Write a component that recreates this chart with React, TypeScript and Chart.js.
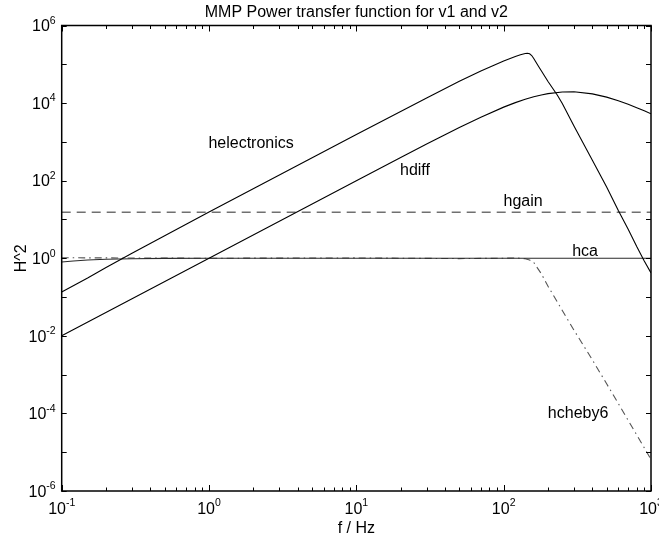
import React, { useEffect, useRef } from 'react';
import { Chart, registerables } from 'chart.js';

Chart.register(...registerables);

const FONT = "'Liberation Sans', Arial, Helvetica, sans-serif";

// ---- data ----
const freqElec = [0.1, 0.15, 0.2, 0.3, 0.5, 1, 10, 30, 50, 70, 100, 120, 130, 140, 145, 150, 155, 160, 171, 180, 200, 231, 250, 300, 400, 500, 600, 700, 800, 900, 1000];
const hElectronics = [0.135, 0.31, 0.58, 1.35, 3.8, 15.5, 1550, 13600, 36400, 67300, 122000, 159000, 176000, 190000, 193000, 186000, 168000, 141000, 93000, 68000, 36000, 16200, 9800, 2550, 335, 69, 17, 5.6, 2.0, 0.85, 0.42];

const freqDiff = [0.1, 1, 10, 20, 30, 50, 70, 100, 120, 140, 160, 180, 200, 250, 300, 400, 500, 600, 700, 800, 900, 1000];
const hDiff = [0.01, 1, 99.7, 396, 880, 2348, 4340, 7865, 10277, 12544, 14549, 16221, 17538, 19350, 19506, 17304, 14248, 11513, 9322, 7623, 6308, 5285];

const freqGain = [0.1, 1000];
const hGain = [15.4, 15.4];

const freqCa = [0.1, 0.12, 0.15, 0.2, 0.3, 0.5, 1, 1000];
const hCa = [0.8, 0.85, 0.9, 0.94, 0.973, 0.99, 1, 1];

const freqCheby = [0.1, 1, 10, 50, 100, 120, 140, 150, 160, 180, 200, 250, 300, 400, 500, 600, 700, 800, 900, 1000];
const hCheby6 = [1.03, 1.0, 1.02, 0.98, 1.0, 1.02, 0.97, 0.9, 0.78, 0.4, 0.19, 0.045, 0.014, 0.0024, 0.00058, 0.00018, 0.000066, 0.000028, 0.000013, 0.0000065];

const xTickValues = [0.1, 1, 10, 100, 1000];
const yTickValues = [1e-6, 1e-5, 1e-4, 1e-3, 1e-2, 1e-1, 1, 10, 100, 1e3, 1e4, 1e5, 1e6];
const yLabelValues = [1e-6, 1e-4, 1e-2, 1, 100, 1e4, 1e6];

const titleText = 'MMP Power transfer function for v1 and v2';

const curveLabels = ['helectronics', 'hdiff', 'hgain', 'hca', 'hcheby6'];
const curveLabelF = [1.93, 25, 135.5, 357, 320];
const curveLabelH = [883, 178, 28.3, 1.45, 9.7e-5];

const pts = (xs: number[], ys: number[]) => xs.map((x, i) => ({ x, y: ys[i] }));
const expOf = (v: number) => String(Math.round(Math.log10(v)));

const BASE = 16;
const EXP = 10.5;

function drawPow(ctx: CanvasRenderingContext2D, v: number, x: number, baseline: number, align: 'center' | 'right') {
  ctx.font = `${BASE}px ${FONT}`;
  const wb = ctx.measureText('10').width;
  ctx.font = `${EXP}px ${FONT}`;
  const e = expOf(v);
  const we = ctx.measureText(e).width;
  const total = wb + we;
  const x0 = align === 'center' ? x - total / 2 : x - total;
  ctx.textAlign = 'left';
  ctx.textBaseline = 'alphabetic';
  ctx.font = `${BASE}px ${FONT}`;
  ctx.fillText('10', x0, baseline);
  ctx.font = `${EXP}px ${FONT}`;
  ctx.fillText(e, x0 + wb, baseline - 7.5);
}

const decorPlugin = {
  id: 'decor',
  afterDraw(chart: any) {
    const { ctx, chartArea: a, scales } = chart;
    const x = scales.x;
    const y = scales.y;
    ctx.save();
    ctx.strokeStyle = '#000';
    ctx.lineWidth = 1;
    ctx.beginPath();
    for (let n = -1; n <= 3; n++) {
      for (let m = 1; m <= 9; m++) {
        const v = m * Math.pow(10, n);
        if (v > 1000.0001) break;
        const px = Math.round(x.getPixelForValue(v)) + 0.5;
        const len = m === 1 ? 6 : 3.5;
        ctx.moveTo(px, a.bottom);
        ctx.lineTo(px, a.bottom - len);
        ctx.moveTo(px, a.top);
        ctx.lineTo(px, a.top + len);
      }
    }
    for (const v of yTickValues) {
      const py = Math.round(y.getPixelForValue(v)) + 0.5;
      ctx.moveTo(a.left, py);
      ctx.lineTo(a.left + 5, py);
      ctx.moveTo(a.right, py);
      ctx.lineTo(a.right - 5, py);
    }
    ctx.stroke();
    ctx.lineWidth = 1.5;
    ctx.strokeRect(a.left, a.top, a.right - a.left, a.bottom - a.top);

    ctx.fillStyle = '#000';
    // tick labels
    for (const v of xTickValues) {
      drawPow(ctx, v, x.getPixelForValue(v), a.bottom + 22.5, 'center');
    }
    for (const v of yLabelValues) {
      drawPow(ctx, v, a.left - 6, y.getPixelForValue(v) + 5.8, 'right');
    }

    // title
    ctx.font = `16px ${FONT}`;
    ctx.textAlign = 'center';
    ctx.textBaseline = 'alphabetic';
    ctx.fillText(titleText, (a.left + a.right) / 2, 17);

    // curve labels
    ctx.textBaseline = 'middle';
    curveLabels.forEach((t, i) => {
      ctx.fillText(t, x.getPixelForValue(curveLabelF[i]), y.getPixelForValue(curveLabelH[i]));
    });
    ctx.restore();
  },
};

export default function App() {
  const ref = useRef<HTMLCanvasElement>(null);
  useEffect(() => {
    const canvas = ref.current;
    if (!canvas) return;
    const chart = new Chart(canvas, {
      type: 'line',
      data: {
        datasets: [
          { label: 'helectronics', data: pts(freqElec, hElectronics), borderColor: '#000', borderWidth: 1.1, pointRadius: 0, fill: false },
          { label: 'hdiff', data: pts(freqDiff, hDiff), borderColor: '#000', borderWidth: 1.1, pointRadius: 0, fill: false },
          { label: 'hgain', data: pts(freqGain, hGain), borderColor: '#707070', borderWidth: 1.6, borderDash: [9, 6], pointRadius: 0, fill: false },
          { label: 'hca', data: pts(freqCa, hCa), borderColor: '#2a2a2a', borderWidth: 1.1, pointRadius: 0, fill: false },
          { label: 'hcheby6', data: pts(freqCheby, hCheby6), borderColor: '#555', borderWidth: 1.1, borderDash: [7, 4, 1.5, 4], pointRadius: 0, fill: false },
        ],
      },
      options: {
        animation: false,
        responsive: false,
        maintainAspectRatio: false,
        layout: { padding: { left: 0, right: 8, top: 25.5, bottom: 0 } },
        plugins: {
          legend: { display: false },
          tooltip: { enabled: false },
          title: { display: false },
        },
        scales: {
          x: {
            type: 'logarithmic',
            position: 'bottom',
            min: 0.1,
            max: 1000,
            grid: { display: false, drawTicks: false },
            border: { display: false },
            afterBuildTicks: (s: any) => {
              s.ticks = xTickValues.map((v) => ({ value: v }));
            },
            afterFit: (s: any) => {
              s.height = 47;
            },
            ticks: { display: false },
            title: {
              display: true,
              text: 'f / Hz',
              color: '#000',
              font: { size: 16, family: FONT },
              padding: { top: 7.4, bottom: 0 },
            },
          },
          y: {
            type: 'logarithmic',
            position: 'left',
            min: 1e-6,
            max: 1e6,
            grid: { display: false, drawTicks: false },
            border: { display: false },
            afterBuildTicks: (s: any) => {
              s.ticks = yTickValues.map((v) => ({ value: v }));
            },
            afterFit: (s: any) => {
              s.width = 61.7;
            },
            ticks: { display: false },
            title: {
              display: true,
              text: 'H^2',
              color: '#000',
              font: { size: 16, family: FONT },
              padding: { top: 12, bottom: 0 },
            },
          },
        },
      },
      plugins: [decorPlugin],
    } as any);
    return () => chart.destroy();
  }, []);
  return (
    <div style={{ position: 'fixed', left: 0, top: 0, width: 659, height: 538, overflow: 'hidden', background: '#fff' }}>
      <canvas ref={ref} width={659} height={538} style={{ display: 'block' }} />
    </div>
  );
}
